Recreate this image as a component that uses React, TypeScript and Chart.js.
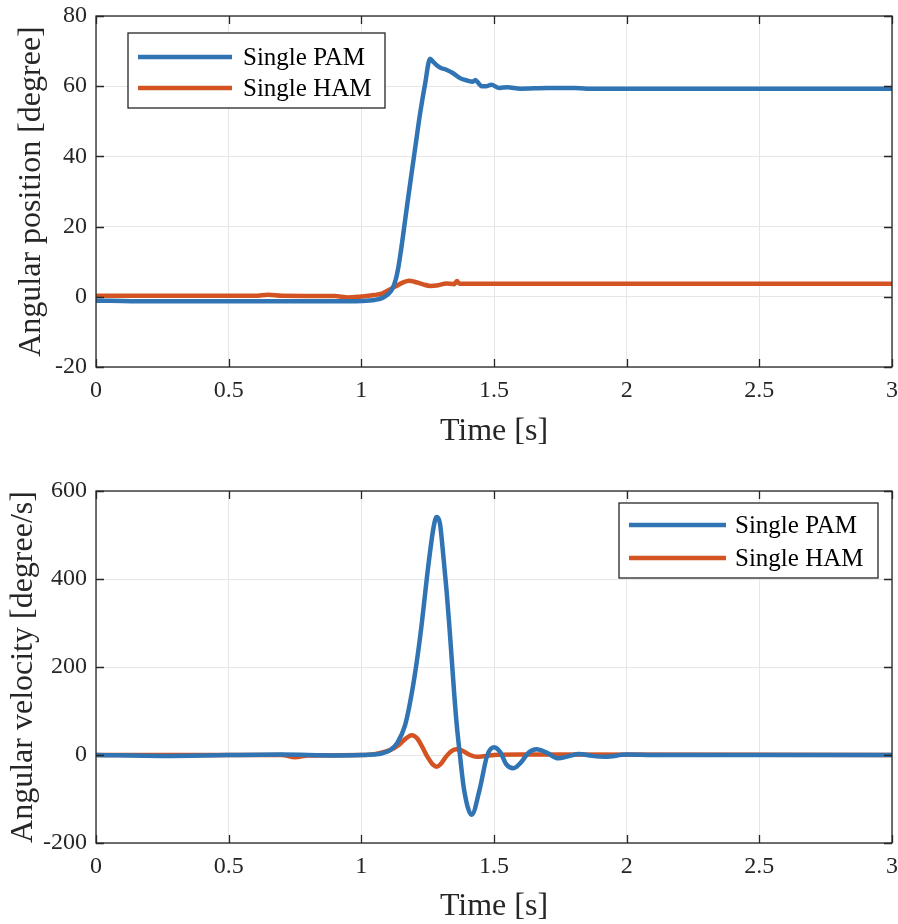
import React, { useEffect, useRef } from 'react';
import { Chart, registerables } from 'chart.js';
Chart.register(...registerables);

// ---- Data ----
const seriesNames = ['Single PAM', 'Single HAM'];

const posTimePAM = [0, 0.1, 0.2, 0.4, 0.6, 0.8, 0.9, 1.0, 1.05, 1.08, 1.1, 1.115, 1.13, 1.14, 1.15, 1.16, 1.171, 1.19, 1.205, 1.221, 1.24, 1.259, 1.27, 1.284, 1.3, 1.32, 1.346, 1.372, 1.4, 1.42, 1.43, 1.44, 1.454, 1.47, 1.49, 1.52, 1.55, 1.6, 1.7, 1.8, 1.85, 2.0, 3.0];
const posPAM = [-1.1, -1.2, -1.3, -1.3, -1.3, -1.3, -1.3, -1.2, -0.9, -0.3, 0.7, 2, 5, 8.6, 13.5, 19, 25.2, 35.5, 43.5, 52, 60.5, 67.8, 67, 66, 65.2, 64.7, 63.7, 62.3, 61.6, 61.3, 61.8, 61, 60, 60, 60.4, 59.5, 59.7, 59.3, 59.5, 59.5, 59.3, 59.3, 59.3];

const posTimeHAM = [0, 0.6, 0.65, 0.7, 0.9, 0.95, 1.0, 1.05, 1.08, 1.1, 1.13, 1.16, 1.18, 1.2, 1.23, 1.26, 1.29, 1.32, 1.35, 1.36, 1.37, 1.5, 3.0];
const posHAM = [0.3, 0.3, 0.6, 0.3, 0.2, -0.2, 0.1, 0.5, 1.0, 1.8, 3.0, 4.2, 4.6, 4.3, 3.6, 3.1, 3.3, 3.8, 3.6, 4.5, 3.7, 3.7, 3.7];

const velTimePAM = [0, 0.25, 0.5, 0.7, 0.9, 1.0, 1.045, 1.08, 1.108, 1.135, 1.165, 1.19, 1.212, 1.228, 1.241, 1.254, 1.273, 1.284, 1.296, 1.311, 1.321, 1.331, 1.34, 1.349, 1.359, 1.372, 1.387, 1.416, 1.446, 1.474, 1.5, 1.525, 1.545, 1.573, 1.6, 1.63, 1.66, 1.7, 1.742, 1.78, 1.82, 1.87, 1.92, 2.0, 2.1, 3.0];
const velPAM = [0, -2, 0, 1, -1, 0, 1, 4, 11, 27, 68, 140, 225, 300, 370, 438, 520, 541, 527, 440, 375, 299, 224, 148, 72, -2, -78, -136, -78, -2, 17.5, 5, -20, -30, -18, 5, 13, 5, -7.5, -3, 2, -2, -4, 1, 0, 0];

const velTimeHAM = [0, 0.5, 0.7, 0.75, 0.8, 1.0, 1.05, 1.108, 1.14, 1.165, 1.19, 1.21, 1.23, 1.25, 1.27, 1.284, 1.3, 1.32, 1.34, 1.359, 1.38, 1.41, 1.435, 1.47, 1.5, 1.6, 3.0];
const velHAM = [0, 0, 0, -5, -1, 0, 2, 11, 22, 36, 45, 38, 18, -5, -22, -26.5, -20, -3, 9, 13, 10, 0, -4, -2, 0, 1, 0];

const xTickStep = 0.5;
const xMin = 0, xMax = 3;
const posMin = -20, posMax = 80, posStep = 20;
const velMin = -200, velMax = 600, velStep = 200;

const BLUE = '#3074b4';
const ORANGE = '#d35322';
const AXIS = '#262626';
const FONT = '"Liberation Serif", "Times New Roman", serif';

const toPts = (t: number[], v: number[]) => t.map((x, i) => ({ x, y: v[i] }));

const boxPlugin = {
  id: 'matlabBox',
  afterDatasetsDraw(chart: any, _args: any, opts: any) {
    const { ctx, chartArea } = chart;
    const { left, right, top, bottom } = chartArea;
    const xs = chart.scales.x, ys = chart.scales.y;
    ctx.save();
    ctx.strokeStyle = AXIS;
    ctx.lineWidth = 1.3;
    ctx.strokeRect(left, top, right - left, bottom - top);
    const tl = 8;
    ctx.beginPath();
    xs.ticks.forEach((t: any) => {
      const p = Math.round(xs.getPixelForValue(t.value)) + 0.5;
      ctx.moveTo(p, bottom); ctx.lineTo(p, bottom - tl);
      ctx.moveTo(p, top); ctx.lineTo(p, top + tl);
    });
    ys.ticks.forEach((t: any) => {
      const p = Math.round(ys.getPixelForValue(t.value)) + 0.5;
      ctx.moveTo(left, p); ctx.lineTo(left + tl, p);
      ctx.moveTo(right, p); ctx.lineTo(right - tl, p);
    });
    ctx.stroke();

    const L = opts.legend;
    if (L) {
      ctx.fillStyle = '#ffffff';
      ctx.fillRect(L.x, L.y, L.w, L.h);
      ctx.strokeStyle = AXIS;
      ctx.lineWidth = 1.3;
      ctx.strokeRect(L.x, L.y, L.w, L.h);
      ctx.font = `${L.fontSize}px ${FONT}`;
      ctx.textBaseline = 'middle';
      ctx.textAlign = 'left';
      chart.data.datasets.forEach((ds: any, i: number) => {
        const yy = L.rowY[i];
        ctx.strokeStyle = ds.borderColor;
        ctx.lineWidth = 4.5;
        ctx.beginPath();
        ctx.moveTo(L.lineX0, yy); ctx.lineTo(L.lineX1, yy);
        ctx.stroke();
        ctx.fillStyle = '#000000';
        ctx.fillText(ds.label, L.textX, yy + 1);
      });
    }
    ctx.restore();
  },
};

function makeConfig(kind: 'pos' | 'vel'): any {
  const isPos = kind === 'pos';
  const datasets = isPos
    ? [
        { label: seriesNames[0], data: toPts(posTimePAM, posPAM), borderColor: BLUE },
        { label: seriesNames[1], data: toPts(posTimeHAM, posHAM), borderColor: ORANGE },
      ]
    : [
        { label: seriesNames[0], data: toPts(velTimePAM, velPAM), borderColor: BLUE },
        { label: seriesNames[1], data: toPts(velTimeHAM, velHAM), borderColor: ORANGE },
      ];
  datasets.forEach((d: any) => {
    d.borderWidth = 4.5;
    d.pointRadius = 0;
    d.cubicInterpolationMode = 'monotone';
    d.fill = false;
  });
  const legend = isPos
    ? { x: 128, y: 33, w: 257, h: 75, rowY: [57, 88], lineX0: 138, lineX1: 232, textX: 243, fontSize: 25 }
    : { x: 619, y: 503 - 462, w: 259, h: 75, rowY: [525 - 462, 558 - 462], lineX0: 629, lineX1: 726, textX: 735, fontSize: 25 };
  return {
    type: 'line',
    data: { datasets },
    options: {
      animation: false,
      responsive: false,
      maintainAspectRatio: false,
      layout: { padding: { top: isPos ? 16 : 29, right: 6, left: 0, bottom: 0 } },
      plugins: {
        legend: { display: false },
        tooltip: { enabled: false },
        matlabBox: { legend },
      },
      scales: {
        x: {
          type: 'linear',
          min: xMin,
          max: xMax,
          afterFit: (s: any) => {
            s.height = isPos ? 95 : 81;
            s.paddingLeft = 0; s.paddingRight = 0;
          },
          grid: { color: '#e6e6e6', lineWidth: 1, drawTicks: false },
          border: { display: false },
          ticks: {
            stepSize: xTickStep,
            color: AXIS,
            padding: 9,
            font: { family: FONT, size: 24 },
            maxRotation: 0,
            callback: (v: any) => String(Number(v)),
          },
          title: {
            display: true,
            text: 'Time [s]',
            color: AXIS,
            font: { family: FONT, size: 32 },
            padding: { top: 0, bottom: isPos ? 11 : -2 },
          },
        },
        y: {
          type: 'linear',
          min: isPos ? posMin : velMin,
          max: isPos ? posMax : velMax,
          afterFit: (s: any) => {
            s.width = 96;
            s.paddingTop = 0; s.paddingBottom = 0;
          },
          grid: { color: '#e6e6e6', lineWidth: 1, drawTicks: false },
          border: { display: false },
          ticks: {
            stepSize: isPos ? posStep : velStep,
            color: AXIS,
            padding: 9,
            font: { family: FONT, size: 24 },
          },
          title: {
            display: true,
            text: isPos ? 'Angular position [degree]' : 'Angular velocity [degree/s]',
            color: AXIS,
            font: { family: FONT, size: 32 },
            padding: { top: isPos ? 12 : 4, bottom: 0 },
          },
        },
      },
    },
    plugins: [boxPlugin],
  };
}

function Panel({ kind, top }: { kind: 'pos' | 'vel'; top: number }) {
  const ref = useRef<HTMLCanvasElement | null>(null);
  useEffect(() => {
    if (!ref.current) return;
    const chart = new Chart(ref.current, makeConfig(kind));
    return () => chart.destroy();
  }, [kind]);
  return (
    <canvas
      ref={ref}
      width={898}
      height={462}
      style={{ position: 'absolute', left: 0, top, width: 898, height: 462, display: 'block' }}
    />
  );
}

export default function App() {
  return (
    <div style={{ position: 'fixed', left: 0, top: 0, width: 898, height: 924, background: '#ffffff', overflow: 'hidden' }}>
      <Panel kind="pos" top={0} />
      <Panel kind="vel" top={462} />
    </div>
  );
}
